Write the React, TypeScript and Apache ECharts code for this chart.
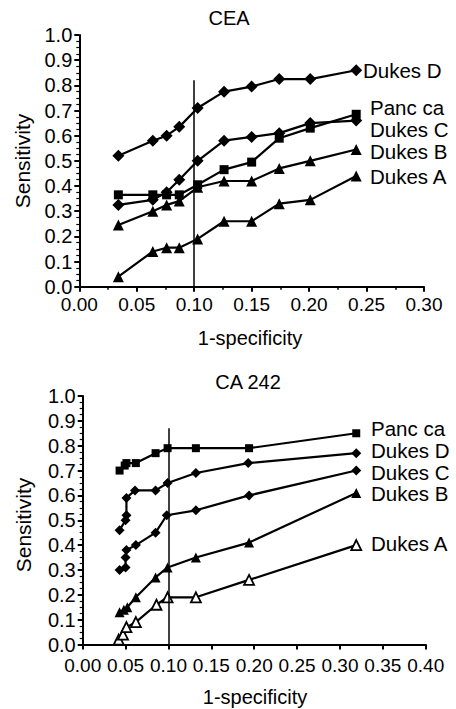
import React, { useEffect, useRef } from "react";
import * as echarts from "echarts";

// ---------- data ----------
const labelNames = ["Dukes D", "Panc ca", "Dukes C", "Dukes B", "Dukes A"];

// CEA panel
const ceaX = [0.034, 0.064, 0.076, 0.087, 0.103, 0.126, 0.15, 0.174, 0.201, 0.241];
const ceaDukesD = [0.52, 0.58, 0.6, 0.635, 0.71, 0.775, 0.795, 0.825, 0.825, 0.86];
const ceaPancCa = [0.365, 0.365, 0.365, 0.365, 0.405, 0.465, 0.495, 0.59, 0.63, 0.685];
const ceaDukesC = [0.325, 0.345, 0.375, 0.425, 0.5, 0.58, 0.595, 0.61, 0.65, 0.66];
const ceaDukesB = [0.245, 0.3, 0.325, 0.34, 0.395, 0.42, 0.42, 0.47, 0.5, 0.545];
const ceaDukesA = [0.04, 0.14, 0.155, 0.155, 0.19, 0.26, 0.26, 0.33, 0.345, 0.44];

// CA 242 panel
const caPancX = [0.043, 0.049, 0.051, 0.062, 0.085, 0.099, 0.132, 0.194, 0.319];
const caPancCa = [0.7, 0.72, 0.73, 0.73, 0.77, 0.79, 0.79, 0.79, 0.85];
const caDukesDX = [0.043, 0.05, 0.051, 0.051, 0.061, 0.085, 0.099, 0.132, 0.193, 0.319];
const caDukesD = [0.46, 0.5, 0.52, 0.59, 0.62, 0.62, 0.65, 0.69, 0.73, 0.77];
const caDukesCX = [0.043, 0.05, 0.05, 0.051, 0.062, 0.085, 0.098, 0.132, 0.194, 0.319];
const caDukesC = [0.3, 0.31, 0.35, 0.38, 0.4, 0.45, 0.52, 0.54, 0.6, 0.7];
const caDukesBX = [0.043, 0.048, 0.052, 0.062, 0.085, 0.099, 0.132, 0.194, 0.319];
const caDukesB = [0.13, 0.14, 0.15, 0.19, 0.27, 0.31, 0.35, 0.41, 0.61];
const caDukesAX = [0.042, 0.047, 0.051, 0.062, 0.086, 0.099, 0.132, 0.194, 0.319];
const caDukesA = [0.02, 0.04, 0.07, 0.09, 0.16, 0.19, 0.19, 0.26, 0.4];

// reference cut-off line (1-specificity = 0.10) and its top in each panel
const cutoff = 0.1;
const cutoffTop = [0.82, 0.87];

const titles = ["CEA", "CA 242"];
const xTitle = "1-specificity";
const yTitle = "Sensitivity";

const zip = (xs: number[], ys: number[]) => xs.map((x, i) => [x, ys[i]]);

const FONT = "'Liberation Sans', Arial, Helvetica, sans-serif";

export default function App() {
  const ref = useRef<HTMLDivElement>(null);
  useEffect(() => {
    if (!ref.current) return;
    const chart = echarts.init(ref.current, null, { renderer: "svg" });

    const black = "#000";
    const mk = (
      name: string,
      data: number[][],
      idx: number,
      symbol: string,
      size: number,
      open = false,
      extra: any = {}
    ) => ({
      type: "line",
      name,
      xAxisIndex: idx,
      yAxisIndex: idx,
      data,
      symbol,
      symbolSize: size,
      showAllSymbol: true,
      lineStyle: { color: black, width: 2.2 },
      itemStyle: open
        ? { color: "#fff", borderColor: black, borderWidth: 1.8 }
        : { color: black, borderColor: black, borderWidth: 0 },
      emphasis: { disabled: true },
      z: 3,
      ...extra,
    });

    const cutLine = (top: number) => ({
      markLine: {
        silent: true,
        symbol: "none",
        label: { show: false },
        lineStyle: { color: black, width: 1.5, type: "solid" },
        data: [[{ coord: [cutoff, 0] }, { coord: [cutoff, top] }]],
      },
    });

    const xAxisBase = (gridIndex: number, max: number, minor: boolean, margin: number) => ({
      type: "value",
      gridIndex,
      min: 0,
      max,
      interval: 0.05,
      axisLine: { onZero: false, lineStyle: { color: black, width: 2 } },
      axisTick: { show: true, length: 5, lineStyle: { color: black, width: 2 } },
      minorTick: { show: minor, splitNumber: 2, length: 3, lineStyle: { color: black, width: 1.5 } },
      splitLine: { show: false },
      axisLabel: {
        color: black,
        fontFamily: FONT,
        fontSize: 19,
        margin,
        formatter: (v: number) => v.toFixed(2),
      },
    });

    const yAxisBase = (gridIndex: number) => ({
      type: "value",
      gridIndex,
      min: 0,
      max: 1,
      interval: 0.1,
      axisLine: { show: true, lineStyle: { color: black, width: 2 } },
      axisTick: { show: true, length: 5, lineStyle: { color: black, width: 2 } },
      minorTick: { show: true, splitNumber: 4, length: 3, lineStyle: { color: black, width: 1.2 } },
      splitLine: { show: false },
      axisLabel: {
        color: black,
        fontFamily: FONT,
        fontSize: 20,
        margin: 7,
        formatter: (v: number) => v.toFixed(1),
      },
    });

    const txt = (text: string, x: number, y: number, size: number, align = "left", rotation = 0) => ({
      type: "text",
      x,
      y,
      rotation,
      style: {
        text,
        fill: black,
        font: `${size}px ${FONT}`,
        lineHeight: size,
        textAlign: align,
        textVerticalAlign: "middle",
      },
    });

    const topLabelY = [70, 107.5, 129, 151, 176];
    const topLabelX = [363, 370, 370, 370, 370];
    const botLabelY = [450, 428, 472, 493, 543];
    const botLabelX = [371, 371, 371, 371, 371];

    const graphics: any[] = [
      txt(titles[0], 229, 18, 20, "center"),
      txt(titles[1], 248, 382, 20, "center"),
      txt(xTitle, 250, 338, 20, "center"),
      txt(xTitle, 255, 697, 20, "center"),
      txt(yTitle, 22, 161, 21, "center", Math.PI / 2),
      txt(yTitle, 23, 525, 21, "center", Math.PI / 2),
    ];
    labelNames.forEach((n, i) => {
      graphics.push(txt(n, topLabelX[i], topLabelY[i], 20.5));
      graphics.push(txt(n, botLabelX[i], botLabelY[i], 20.5));
    });

    chart.setOption({
      animation: false,
      backgroundColor: "#fff",
      grid: [
        { left: 79.3, top: 35, width: 344.7, height: 251.7 },
        { left: 82.7, top: 396, width: 343, height: 248.5 },
      ],
      xAxis: [xAxisBase(0, 0.3, true, 8), xAxisBase(1, 0.4, false, 11)],
      yAxis: [yAxisBase(0), yAxisBase(1)],
      series: [
        mk("Dukes D", zip(ceaX, ceaDukesD), 0, "diamond", 12, false, cutLine(cutoffTop[0])),
        mk("Panc ca", zip(ceaX, ceaPancCa), 0, "rect", 9),
        mk("Dukes C", zip(ceaX, ceaDukesC), 0, "diamond", 12),
        mk("Dukes B", zip(ceaX, ceaDukesB), 0, "triangle", 11),
        mk("Dukes A", zip(ceaX, ceaDukesA), 0, "triangle", 11),
        mk("Panc ca", zip(caPancX, caPancCa), 1, "rect", 8, false, cutLine(cutoffTop[1])),
        mk("Dukes D", zip(caDukesDX, caDukesD), 1, "diamond", 10),
        mk("Dukes C", zip(caDukesCX, caDukesC), 1, "diamond", 10),
        mk("Dukes B", zip(caDukesBX, caDukesB), 1, "triangle", 10),
        mk("Dukes A", zip(caDukesAX, caDukesA), 1, "triangle", 10, true),
      ],
      graphic: graphics,
    });

    return () => chart.dispose();
  }, []);

  return (
    <div
      ref={ref}
      style={{ position: "fixed", left: 0, top: 0, width: 456, height: 709, background: "#fff" }}
    />
  );
}
